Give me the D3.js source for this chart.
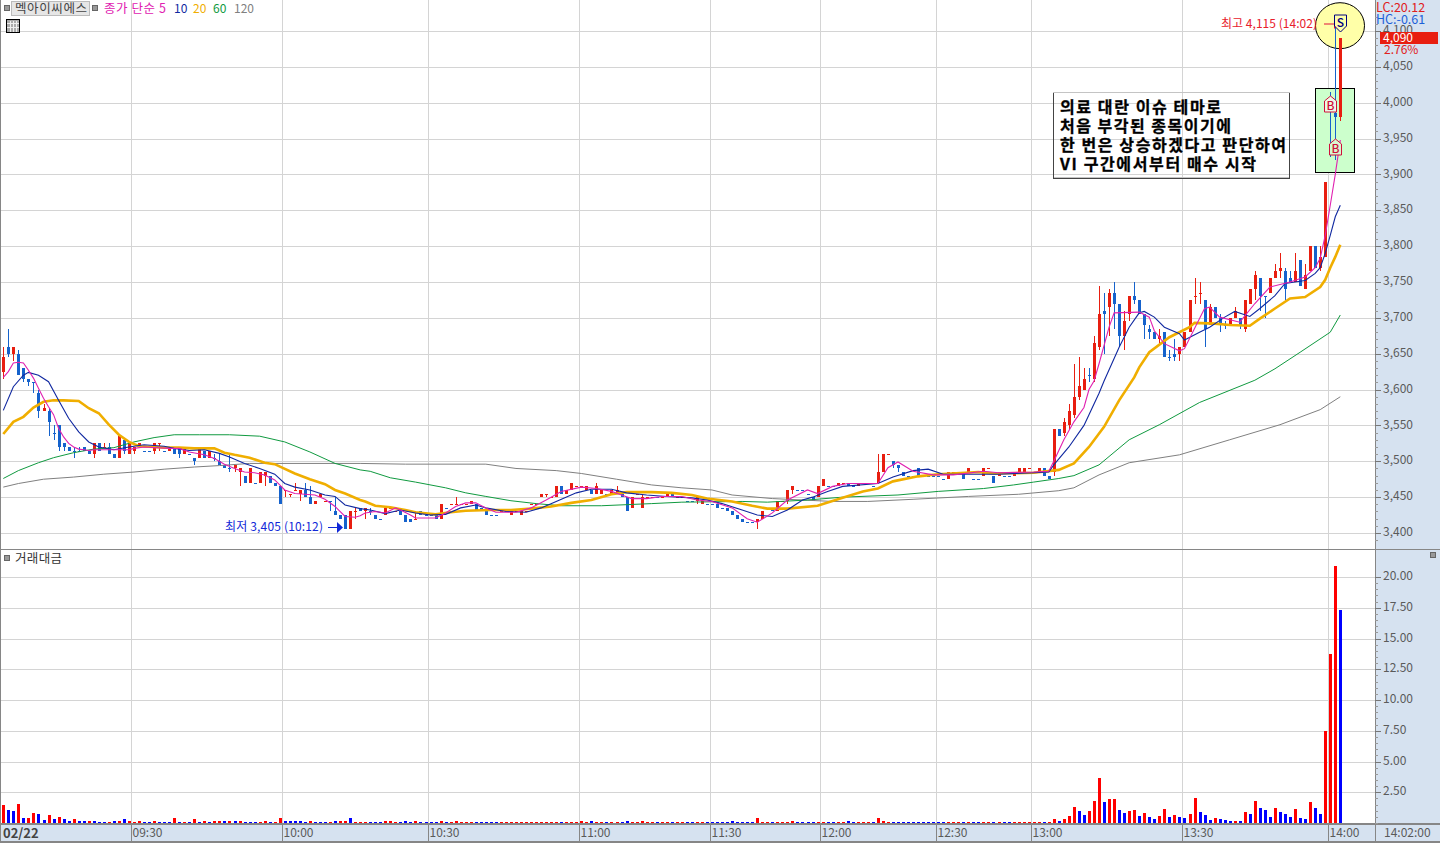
<!DOCTYPE html>
<html><head><meta charset="utf-8">
<script src="https://cdnjs.cloudflare.com/ajax/libs/d3/7.8.5/d3.min.js"></script>
<style>html,body{margin:0;padding:0;background:#fff;overflow:hidden}text{font-family:"Noto Sans CJK KR","Noto Sans",sans-serif}</style>
</head><body><div id="c"></div>
<script>
// open, high, low, close per one-minute candle
const candles=[
[3625,3660,3615,3645],[3660,3685,3645,3650],[3650,3660,3640,3660],[3650,3655,3620,3620],[3630,3630,3610,3615],[3615,3615,3605,3610],[3610,3610,3595,3610],[3595,3600,3560,3570],[3570,3580,3570,3575],[3570,3575,3535,3555],
[3540,3550,3530,3540],[3550,3550,3515,3520],[3525,3525,3515,3520],[3520,3520,3515,3515],[3515,3520,3505,3515],[3515,3520,3515,3515],[3520,3520,3515,3515],[3515,3515,3510,3510],[3510,3525,3505,3525],[3525,3525,3515,3515],
[3520,3525,3520,3520],[3520,3525,3510,3510],[3510,3510,3505,3505],[3505,3535,3505,3535],[3530,3530,3510,3515],[3510,3525,3510,3525],[3515,3520,3510,3520],[3520,3525,3520,3525],[3515,3515,3515,3515],[3515,3515,3515,3515],
[3515,3525,3510,3525],[3525,3525,3515,3525],[3515,3515,3515,3515],[3515,3520,3515,3520],[3520,3520,3510,3510],[3520,3520,3505,3510],[3510,3520,3510,3520],[3510,3510,3510,3510],[3505,3505,3495,3500],[3505,3520,3505,3520],
[3515,3515,3505,3505],[3505,3515,3505,3515],[3505,3510,3500,3505],[3500,3510,3495,3495],[3495,3495,3490,3490],[3490,3510,3485,3490],[3490,3495,3485,3495],[3485,3490,3465,3490],[3480,3480,3470,3470],[3470,3490,3470,3490],
[3470,3470,3470,3470],[3470,3485,3470,3485],[3480,3485,3465,3485],[3480,3480,3470,3470],[3470,3470,3465,3465],[3465,3465,3440,3440],[3460,3460,3450,3460],[3455,3455,3450,3455],[3460,3470,3460,3460],[3455,3460,3445,3460],
[3460,3470,3450,3450],[3450,3465,3440,3440],[3440,3445,3440,3445],[3450,3455,3450,3455],[3445,3445,3445,3445],[3445,3445,3430,3445],[3430,3450,3425,3425],[3425,3425,3420,3420],[3425,3425,3405,3405],[3405,3430,3405,3430],
[3430,3435,3420,3430],[3435,3435,3430,3430],[3430,3435,3420,3435],[3430,3435,3425,3430],[3425,3425,3420,3420],[3420,3420,3420,3420],[3425,3435,3425,3435],[3435,3435,3435,3435],[3430,3430,3430,3430],[3430,3435,3425,3425],
[3425,3425,3415,3415],[3420,3420,3415,3415],[3420,3430,3420,3420],[3430,3430,3425,3425],[3425,3425,3425,3425],[3425,3425,3425,3425],[3425,3425,3420,3420],[3420,3440,3420,3440],[3435,3435,3435,3435],[3440,3440,3440,3440],
[3440,3450,3440,3440],[3440,3440,3440,3440],[3440,3440,3440,3440],[3440,3445,3440,3445],[3440,3440,3430,3430],[3435,3435,3430,3430],[3430,3430,3425,3425],[3425,3425,3425,3425],[3425,3425,3425,3425],[3430,3430,3430,3430],
[3430,3430,3430,3430],[3425,3430,3425,3430],[3430,3430,3430,3430],[3425,3430,3425,3430],[3430,3430,3430,3430],[3440,3440,3440,3440],[3440,3440,3440,3440],[3450,3455,3450,3455],[3455,3455,3450,3455],[3450,3450,3450,3450],
[3450,3465,3450,3465],[3465,3465,3455,3455],[3455,3460,3455,3460],[3460,3470,3460,3470],[3465,3465,3465,3465],[3465,3465,3465,3465],[3460,3465,3460,3465],[3460,3460,3455,3455],[3455,3470,3455,3465],[3455,3460,3455,3460],
[3455,3455,3455,3455],[3455,3460,3455,3460],[3455,3465,3455,3460],[3455,3455,3450,3450],[3450,3450,3430,3430],[3435,3450,3435,3450],[3455,3455,3455,3455],[3435,3455,3435,3450],[3450,3450,3450,3450],[3450,3450,3450,3450],
[3450,3450,3450,3450],[3450,3450,3450,3450],[3450,3455,3450,3455],[3455,3455,3450,3450],[3450,3450,3450,3450],[3450,3450,3450,3450],[3445,3445,3445,3445],[3445,3445,3445,3445],[3445,3450,3440,3450],[3440,3445,3440,3445],
[3440,3440,3440,3440],[3440,3440,3440,3440],[3440,3440,3435,3435],[3435,3435,3435,3435],[3435,3435,3430,3430],[3430,3430,3425,3425],[3425,3425,3420,3420],[3420,3420,3415,3415],[3415,3415,3415,3415],[3415,3415,3415,3415],
[3415,3420,3405,3420],[3420,3430,3420,3430],[3435,3435,3435,3435],[3435,3435,3430,3430],[3430,3445,3430,3445],[3445,3445,3445,3445],[3445,3460,3440,3460],[3460,3465,3455,3465],[3460,3460,3460,3460],[3460,3460,3460,3460],
[3455,3455,3455,3455],[3450,3450,3445,3445],[3450,3465,3450,3465],[3465,3475,3465,3475],[3465,3465,3465,3465],[3465,3465,3465,3465],[3465,3470,3465,3470],[3470,3470,3470,3470],[3470,3470,3465,3465],[3465,3465,3465,3465],
[3465,3470,3465,3470],[3470,3470,3470,3470],[3470,3470,3470,3470],[3465,3465,3465,3465],[3470,3510,3470,3485],[3485,3510,3485,3510],[3510,3510,3510,3510],[3500,3500,3490,3495],[3495,3495,3485,3490],[3485,3485,3480,3480],
[3480,3480,3480,3480],[3480,3480,3480,3480],[3490,3490,3480,3480],[3480,3480,3480,3480],[3480,3480,3480,3480],[3480,3480,3480,3480],[3480,3480,3480,3480],[3475,3475,3475,3475],[3475,3485,3475,3485],[3485,3485,3485,3485],
[3485,3485,3485,3485],[3485,3485,3475,3475],[3485,3490,3485,3490],[3475,3475,3475,3475],[3475,3475,3475,3475],[3480,3490,3480,3490],[3490,3490,3490,3490],[3480,3480,3470,3470],[3480,3485,3480,3485],[3480,3480,3480,3480],
[3480,3480,3480,3480],[3480,3485,3480,3485],[3485,3490,3485,3490],[3485,3490,3485,3490],[3490,3490,3490,3490],[3485,3485,3485,3485],[3485,3490,3485,3490],[3490,3490,3480,3480],[3480,3480,3475,3475],[3485,3545,3480,3545],
[3545,3545,3535,3535],[3540,3560,3535,3555],[3550,3580,3545,3570],[3565,3635,3560,3590],[3590,3645,3585,3605],[3600,3630,3600,3615],[3620,3630,3610,3620],[3615,3675,3610,3665],[3660,3745,3655,3705],[3710,3735,3650,3705],
[3715,3740,3675,3735],[3735,3750,3685,3720],[3720,3720,3660,3675],[3675,3710,3655,3695],[3705,3730,3695,3730],[3730,3750,3720,3725],[3725,3725,3705,3705],[3705,3705,3670,3690],[3685,3690,3670,3680],[3680,3680,3670,3670],
[3670,3685,3665,3675],[3680,3680,3645,3645],[3645,3655,3640,3645],[3650,3670,3640,3645],[3650,3660,3640,3660],[3660,3680,3660,3680],[3680,3725,3680,3725],[3730,3755,3720,3730],[3735,3750,3720,3735],[3725,3725,3660,3685],
[3690,3720,3690,3715],[3715,3715,3700,3700],[3700,3705,3680,3690],[3690,3695,3685,3690],[3690,3700,3690,3700],[3700,3715,3700,3710],[3700,3700,3685,3690],[3685,3725,3680,3725],[3720,3740,3720,3740],[3740,3765,3725,3760],
[3755,3755,3710,3730],[3730,3730,3700,3730],[3735,3755,3735,3755],[3755,3775,3755,3765],[3765,3790,3755,3770],[3765,3770,3725,3740],[3755,3765,3750,3750],[3750,3790,3750,3765],[3780,3780,3745,3745],[3740,3775,3740,3760],
[3765,3800,3765,3800],[3800,3800,3770,3770],[3770,3800,3765,3785],[3785,3890,3785,3890],[4000,4015,3925,3995],[3985,4115,3920,3980],[3980,4090,3975,4090]
];
const redDojis=[20,31,56,57,58,64,70,77,78,82,89,90,91,92,99,100,102,104,105,106,108,109,114,115,126,128,129,131,134,135,155,152,167,171,172,176,189,190,196,204,205,237,238];
// traded value (hundred million won)
const volumes=[
1.5,1.08,.95,1.57,.4,.4,.84,.76,.27,.68,.33,.5,.33,.2,.33,.2,.2,.14,.14,.1,
.06,.06,.14,.14,.33,.14,.08,.14,.06,.06,.14,.06,.06,.06,.4,.06,.06,.06,.33,.06,
.14,.06,.14,.14,.14,.2,.2,.14,.06,.06,.06,.06,.14,.06,.06,.4,.14,.14,.14,.14,
.06,.14,.06,.06,.06,.06,.2,.14,.2,.4,.06,.06,
.06,.06,.06,.06,.2,.2,.06,.06,
.2,.06,.2,.06,.06,.06,.06,.2,.06,.06,
.2,.06,.06,.06,.06,.06,.06,.06,.06,.06,
.06,.06,.06,.06,.06,.06,.06,.06,.06,.06,
.06,.06,.06,.06,.06,.2,.06,.2,.06,.06,
.06,.06,.06,.06,.2,.06,.06,.2,.06,.06,
.06,.06,.06,.06,.06,.06,.06,.06,.06,.06,
.06,.06,.06,.06,.06,.2,.06,.06,.06,.06,
.4,.06,.06,.06,.06,.06,.06,.2,.06,.06,
.06,.06,.06,.06,.06,.06,.06,.06,.2,.06,
.06,.06,.06,.06,.4,.14,.06,.06,.06,.06,
.06,.06,.06,.06,.06,.06,.06,.06,.06,.06,
.06,.06,.06,.06,.06,.06,.06,.06,.06,.06,
.06,.06,.06,.06,.06,.06,.06,
.08,.08,.3,.2,.3,.54,1.27,.95,.62,.95,1.8,3.63,1.68,1.92,1.92,1.03,.81,.95,1.03,.54,
.79,.46,.3,.54,1.11,.46,.62,.46,.38,.7,2,.87,.62,.22,.38,.3,.22,.14,.14,.14,
.87,.7,1.76,1.19,1.03,.46,1.19,.87,.7,.46,1.11,.38,.3,1.68,1.19,.7,7.5,13.7,20.9,17.3
];
const volColorsHead="rbbrbrrbbrbrbbrbbrbbbrbrbrrrbbrbbbrbrbrbrbrrbrbrbbbrrbrrbbbbbrbbbrbrrbrr";
const volColorsTail="brrbrrrbbrrrbrrbbrrbrbbrrbrbbrrbbbrbbbrbrbrbbbrbbbrbbrbbrrrb";
// moving averages: [candle index, price]
const ma5=[[0,3617],[1,3625],[2,3637],[3,3638],[4,3637],[5,3627],[6,3616],[7,3602],[8,3588],[9,3576],[10,3565],[11,3546],[12,3534],[13,3525],[14,3520],[15,3517],[16,3516],[17,3515],[18,3516],[25,3516],[26,3518],[28,3520],[33,3518],[35,3518],[37,3513],[40,3509],[42,3504],[44,3496],[46,3490],[48,3485],[50,3484],[52,3481],[54,3474],[56,3460],[58,3455],[60,3454],[62,3453],[64,3447],[66,3437],[68,3423],[70,3422],[71,3424],[72,3428],[74,3430],[76,3428],[78,3435],[79,3432],[81,3425],[82,3421],[86,3421],[88,3428],[90,3437],[92,3442],[94,3442],[96,3435],[98,3429],[102,3429],[105,3435],[108,3446],[111,3458],[115,3464],[118,3462],[121,3458],[123,3453],[125,3448],[128,3448],[131,3451],[135,3451],[138,3446],[141,3444],[145,3435],[148,3420],[150,3415],[153,3428],[156,3446],[160,3460],[162,3455],[165,3465],[168,3469],[174,3469],[176,3491],[178,3499],[181,3486],[185,3481],[189,3481],[195,3486],[198,3484],[205,3485],[208,3486],[209,3500],[210,3515],[211,3530],[213,3555],[215,3575],[216,3600],[217,3612],[218,3636],[220,3687],[221,3707],[226,3708],[228,3701],[229,3682],[231,3664],[234,3654],[235,3657],[237,3685],[239,3713],[240,3715],[242,3701],[246,3694],[249,3720],[252,3743],[256,3750],[259,3757],[261,3770],[262,3783],[263,3815],[264,3857],[265,3900],[266,3948]];
const ma10=[[0,3571],[2,3604],[4,3620],[5,3624],[7,3620],[9,3611],[11,3585],[13,3560],[15,3541],[17,3527],[19,3520],[22,3516],[25,3520],[28,3523],[32,3521],[34,3518],[37,3515],[40,3516],[43,3511],[45,3506],[48,3497],[51,3490],[54,3482],[56,3469],[58,3464],[61,3460],[64,3453],[66,3451],[68,3439],[71,3434],[73,3432],[76,3427],[79,3432],[82,3428],[85,3425],[88,3426],[91,3435],[94,3439],[96,3435],[100,3430],[104,3429],[107,3435],[110,3444],[114,3456],[117,3461],[121,3461],[124,3456],[128,3453],[132,3451],[137,3449],[140,3446],[143,3441],[147,3432],[150,3425],[153,3423],[156,3432],[159,3446],[161,3450],[164,3458],[167,3465],[174,3469],[177,3478],[181,3487],[184,3489],[187,3482],[192,3482],[198,3482],[205,3484],[208,3485],[209,3495],[212,3520],[215,3550],[216,3565],[218,3595],[219,3612],[222,3659],[224,3687],[226,3707],[227,3709],[229,3701],[231,3687],[234,3678],[235,3669],[238,3680],[240,3687],[243,3701],[245,3709],[248,3702],[250,3713],[253,3731],[255,3748],[259,3752],[261,3762],[262,3770],[263,3790],[264,3815],[265,3841],[266,3857]];
const ma20=[[0,3538],[2,3555],[4,3562],[6,3575],[8,3583],[10,3585],[12,3585],[15,3584],[17,3574],[19,3567],[21,3551],[23,3537],[25,3527],[27,3521],[30,3520],[32,3519],[35,3519],[38,3518],[42,3518],[44,3512],[46,3509],[49,3505],[52,3498],[54,3496],[58,3483],[61,3475],[64,3468],[66,3460],[68,3455],[71,3446],[72,3444],[74,3438],[77,3436],[80,3432],[82,3429],[86,3426],[89,3429],[92,3431],[97,3432],[101,3432],[105,3434],[109,3437],[113,3442],[117,3446],[121,3454],[124,3457],[129,3457],[133,3456],[137,3453],[140,3448],[145,3444],[149,3438],[152,3434],[156,3434],[162,3438],[167,3449],[171,3458],[174,3462],[177,3472],[182,3479],[186,3482],[194,3485],[197,3483],[205,3484],[210,3488],[213,3497],[216,3520],[219,3548],[222,3585],[225,3617],[226,3631],[228,3652],[232,3673],[236,3687],[237,3693],[241,3692],[244,3690],[248,3689],[250,3699],[253,3713],[256,3727],[259,3729],[262,3743],[263,3753],[264,3770],[265,3785],[266,3802]];
const ma60=[[0,3476],[3,3487],[7,3498],[10,3505],[14,3512],[18,3517],[22,3519],[26,3527],[30,3533],[34,3537],[39,3537],[45,3537],[51,3535],[56,3527],[61,3513],[66,3497],[71,3488],[73,3486],[77,3477],[82,3471],[88,3463],[92,3456],[96,3451],[101,3445],[106,3441],[111,3438],[119,3438],[129,3441],[135,3443],[147,3444],[152,3443],[160,3446],[167,3450],[178,3453],[186,3458],[195,3462],[201,3467],[205,3471],[210,3476],[213,3480],[218,3495],[224,3530],[230,3551],[238,3582],[249,3613],[253,3629],[258,3652],[264,3680],[266,3704]];
const ma120=[[0,3464],[3,3469],[8,3475],[14,3478],[20,3482],[26,3485],[32,3489],[38,3492],[43,3494],[49,3497],[71,3497],[80,3496],[96,3496],[102,3490],[110,3487],[115,3483],[122,3475],[129,3467],[135,3463],[141,3460],[145,3453],[153,3448],[165,3444],[172,3444],[181,3447],[192,3451],[202,3454],[210,3459],[213,3463],[218,3481],[224,3498],[234,3509],[244,3530],[254,3551],[262,3572],[266,3590]];
const priceTicks=[3400,3450,3500,3550,3600,3650,3700,3750,3800,3850,3900,3950,4000,4050,4100];
const volTicks=[2.5,5,7.5,10,12.5,15,17.5,20];
const timeTickIdx=[26,56,85,115,141,163,186,205,235,264];
const timeTickLabels=["09:30","10:00","10:30","11:00","11:30","12:00","12:30","13:00","13:30","14:00"];
const noteLines=["의료 대란 이슈 테마로","처음 부각된 종목이기에","한 번은 상승하겠다고 판단하여","VI 구간에서부터 매수 시작"];

const W=1440,H=843,AX=1375;
const RED="#e81e10",BLUE="#1562cc",GRID="#d4d4d4",PANEL="#d6e2f0",EDGE="#868686",TXT="#5a5a5a";
const svg=d3.select("#c").append("svg").attr("width",W).attr("height",H).style("display","block");
const n=candles.length;
const x=d3.scalePoint().domain(d3.range(n)).range([3.3,1340.3]);
const y=d3.scaleLinear().domain([3400,4100]).range([533,31]);
const v=d3.scaleLinear().domain([0,20]).range([823,577]);
const crisp=g=>g.attr("shape-rendering","crispEdges");

svg.append("rect").attr("width",W).attr("height",H).attr("fill","#fff");
crisp(svg.append("rect").attr("x",AX).attr("y",0).attr("width",W-AX).attr("height",H).attr("fill",PANEL));
crisp(svg.append("rect").attr("x",0).attr("y",824).attr("width",W).attr("height",19).attr("fill",PANEL));
const grid=crisp(svg.append("g").attr("stroke",GRID).attr("stroke-width",1));
priceTicks.forEach(p=>grid.append("line").attr("x1",0).attr("x2",AX).attr("y1",Math.round(y(p))+.5).attr("y2",Math.round(y(p))+.5));
volTicks.forEach(p=>grid.append("line").attr("x1",0).attr("x2",AX).attr("y1",Math.round(v(p))+.5).attr("y2",Math.round(v(p))+.5));
timeTickIdx.forEach(i=>{const gx=Math.round(x(i)-2.5)+.5;
  grid.append("line").attr("x1",gx).attr("x2",gx).attr("y1",0).attr("y2",549);
  grid.append("line").attr("x1",gx).attr("x2",gx).attr("y1",550).attr("y2",823);});
svg.append("rect").attr("x",1315.5).attr("y",88.5).attr("width",39).attr("height",84).attr("fill","#ccffcc").attr("stroke","#000").attr("shape-rendering","crispEdges");
svg.append("ellipse").attr("cx",1340).attr("cy",25.7).attr("rx",24.5).attr("ry",23).attr("fill","#ffffa8").attr("stroke","#000");
// candles
const isRed=(d,i)=>d[3]>d[0]||(d[3]===d[0]&&redDojis.includes(i));
const cg=crisp(svg.append("g"));
cg.selectAll("line").data(candles).join("line")
 .attr("x1",(d,i)=>Math.round(x(i))+.5).attr("x2",(d,i)=>Math.round(x(i))+.5)
 .attr("y1",d=>y(d[1])).attr("y2",d=>y(d[2]))
 .attr("stroke",(d,i)=>isRed(d,i)?RED:BLUE);
cg.selectAll("rect").data(candles).join("rect")
 .attr("x",(d,i)=>Math.round(x(i))-1).attr("width",3)
 .attr("y",d=>y(Math.max(d[0],d[3]))).attr("height",d=>Math.max(1,Math.abs(y(d[0])-y(d[3]))))
 .attr("fill",(d,i)=>isRed(d,i)?RED:BLUE);
// moving averages
const line=d3.line().x(d=>x(d[0])).y(d=>y(d[1]));
[[ma120,"#808080",1],[ma60,"#109a40",1],[ma20,"#f0ae00",2.6],[ma10,"#1028a0",1.1],[ma5,"#e020b0",1.1]].forEach(([data,c,w])=>
  svg.append("path").datum(data).attr("d",line).attr("fill","none").attr("stroke",c).attr("stroke-width",w));
// volume bars
const volColor=i=>{
  if(i<volColorsHead.length) return volColorsHead[i]==="r";
  const t=i-(n-volColorsTail.length);
  if(t>=0) return volColorsTail[t]==="r";
  return isRed(candles[i],i);
};
crisp(svg.append("g")).selectAll("rect").data(volumes).join("rect")
 .attr("x",(d,i)=>Math.round(x(i))-1).attr("width",3)
 .attr("y",d=>v(d)).attr("height",d=>Math.max(1,v(0)-v(d)))
 .attr("fill",(d,i)=>volColor(i)?"#ff0000":"#0000ff");
// frame lines
const fr=crisp(svg.append("g").attr("fill",EDGE));
fr.append("rect").attr("x",0).attr("y",0).attr("width",1).attr("height",H);
fr.append("rect").attr("x",0).attr("y",549).attr("width",W).attr("height",1);
fr.append("rect").attr("x",0).attr("y",823).attr("width",W).attr("height",2);
fr.append("rect").attr("x",AX).attr("y",0).attr("width",1).attr("height",H);
fr.append("rect").attr("x",0).attr("y",841).attr("width",W).attr("height",2);
// right axes
const styleAxis=g=>{g.select(".domain").remove();g.selectAll("line").attr("stroke","#777");crisp(g);
  g.selectAll("text").attr("fill",TXT).style("font-size","12px").attr("x",8).attr("dy","0.22em");};
const minorP=d3.range(3390,4121,10);
svg.append("g").attr("transform",`translate(${AX},0)`).call(d3.axisRight(y).tickValues(minorP).tickSize(3).tickFormat("")).call(g=>{g.select(".domain").remove();g.selectAll("line").attr("stroke","#999");crisp(g);});
svg.append("g").attr("transform",`translate(${AX},0)`).call(d3.axisRight(y).tickValues(priceTicks).tickSize(6).tickFormat(d3.format(","))).call(styleAxis);
const minorV=d3.range(0,20.1,.5);
svg.append("g").attr("transform",`translate(${AX},0)`).call(d3.axisRight(v).tickValues(minorV).tickSize(3).tickFormat("")).call(g=>{g.select(".domain").remove();g.selectAll("line").attr("stroke","#999");crisp(g);});
svg.append("g").attr("transform",`translate(${AX},0)`).call(d3.axisRight(v).tickValues(volTicks).tickSize(6).tickFormat(d3.format(".2f"))).call(styleAxis);
// time axis
const tg=svg.append("g");
const tick=(gx,label)=>{
  crisp(tg.append("line")).attr("x1",gx).attr("x2",gx).attr("y1",824).attr("y2",842).attr("stroke",EDGE);
  tg.append("text").attr("x",gx+1).attr("y",837).attr("fill",TXT).style("font-size","12px").text(label);
};
timeTickIdx.forEach((i,k)=>tick(Math.round(x(i)-2.5)+.5,timeTickLabels[k]));
tg.append("text").attr("x",3).attr("y",838).attr("fill","#444").style("font-size","13px").style("font-weight","700").text("02/22");
tg.append("text").attr("x",1384).attr("y",837).attr("fill",TXT).style("font-size","12px").text("14:02:00");
// readouts
const T=(px,py,s,c,size,len)=>{const t=svg.append("text").attr("x",px).attr("y",py).attr("fill",c).style("font-size",(size||12)+"px").text(s);if(len)t.attr("textLength",len).attr("lengthAdjust","spacing");return t;};
T(1376,12,"LC:20.12","#e02020",12.5);
T(1376,24,"HC:-0.61","#1c60d8",12.5);
crisp(svg.append("rect").attr("x",1380).attr("y",32).attr("width",58).attr("height",12).attr("fill",RED));
T(1383,42,"4,090","#fff",12);
T(1384,54,"2.76%","#e02020",12);
// header
const sq=(px,py)=>crisp(svg.append("rect").attr("x",px).attr("y",py).attr("width",5).attr("height",5).attr("fill","#999").attr("stroke","#666"));
sq(4.5,5.5);sq(92.5,5.5);sq(4.5,555.5);sq(1430.5,552.5);
crisp(svg.append("rect").attr("x",11.5).attr("y",1.5).attr("width",78).attr("height",14).attr("fill","#e6e6e6").attr("stroke","#bbb"));
T(15,13,"멕아이씨에스","#444",12.5,72);
T(104,13,"종가 단순 5","#e020b0",12.5,62);
T(174,13,"10","#1028a0",12);
T(193,13,"20","#f0ae00",12);
T(213,13,"60","#109a40",12);
T(234,13,"120","#808080",12);
T(15,563,"거래대금","#333",12.5,47);
// table icon
const ic=crisp(svg.append("g"));
ic.append("rect").attr("x",6.5).attr("y",19.5).attr("width",13).attr("height",13).attr("fill","#aaa").attr("stroke","#000");
[10,13,16].forEach(a=>ic.append("line").attr("x1",a+.5).attr("x2",a+.5).attr("y1",21).attr("y2",32).attr("stroke","#eee"));
[23,27].forEach(a=>ic.append("line").attr("x1",7).attr("x2",19).attr("y1",a+.5).attr("y2",a+.5).attr("stroke","#eee"));
// high / low notes
T(1221,28,"최고 4,115 (14:02)","#e8202c",12,96);
svg.append("line").attr("x1",1324).attr("x2",1334).attr("y1",24).attr("y2",24).attr("stroke","#e0103c");
svg.append("path").attr("d","M1334,19 L1339,24 L1334,29 Z").attr("fill","#e0103c");
T(225,531,"최저 3,405 (10:12)","#1028d8",12,98);
svg.append("line").attr("x1",328).attr("x2",338).attr("y1",527.5).attr("y2",527.5).attr("stroke","#1028d8");
svg.append("path").attr("d","M337,522 L343,527.5 L337,533 Z").attr("fill","#1028d8");
// note box
const bx=crisp(svg.append("g"));
bx.append("rect").attr("x",1053.5).attr("y",92.5).attr("width",236).attr("height",85).attr("fill","none").attr("stroke","#c4c4c4");
bx.append("path").attr("d","M1053.5,92.5 V178.5 H1289.5 V92.5").attr("fill","none").attr("stroke","#444");
const noteW=[161,171,226,196];
noteLines.forEach((s,k)=>svg.append("text").attr("x",1060).attr("y",113+19*k).attr("fill","#000").attr("textLength",noteW[k]).attr("lengthAdjust","spacing").style("font-size","16px").style("font-weight","700").style("stroke","#000").style("stroke-width",".3px").text(s));
// trade markers
const mk=(cx,top,label,c,fill,up)=>{
  const g=svg.append("g").attr("transform",`translate(${cx},${top})`);
  const d=up?"M-6,16 V5 L0,0 L6,5 V16 Z":"M-6,0 H6 V11 L0,17 L-6,11 Z";
  g.append("path").attr("d",d).attr("fill",fill).attr("stroke",c);
  g.append("text").attr("x",0).attr("y",up?14:11.5).attr("text-anchor","middle").attr("fill",c).style("font-size","12px").style("font-weight","500").text(label);
};
mk(1330.5,96,"B","#d0103c","#eef8e6",true);
mk(1335.5,139,"B","#d0103c","#d8f8d0",true);
mk(1340.5,15,"S","#000080","#ffffa8",false);
</script></body></html>
